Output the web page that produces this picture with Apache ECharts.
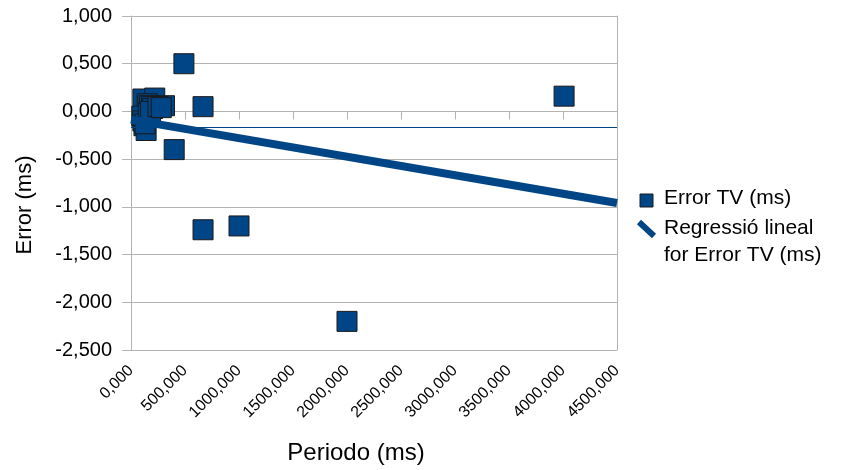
<!DOCTYPE html>
<html><head><meta charset="utf-8">
<script src="https://cdn.jsdelivr.net/npm/echarts@6/dist/echarts.min.js"></script>
<style>html,body{margin:0;padding:0;background:#fff}#c{width:847px;height:470px}</style>
</head><body><div id="c"></div>
<script>
// Error TV (ms) scatter: periodo (ms), error (ms)
const periodo = [490, 4010, 667, 400, 667, 1000, 2000,
  110, 220, 310, 150, 170, 190, 200, 100, 110, 120, 140, 130, 160, 180, 250, 280];
const errorTV = [0.50, 0.16, 0.05, -0.40, -1.24, -1.20, -2.20,
  0.13, 0.14, 0.06, 0.08, 0.06, 0.05, 0.03, -0.05, -0.10, -0.15, -0.20, -0.13, -0.02, 0.00, 0.05, 0.04];
// Regression line endpoints
const regX = [0, 4500];
const regY = [-0.086, -0.96];
const meanLineY = -0.17;
const xTicks = {min: 0, max: 4500, interval: 500};
const yTicks = {min: -2.5, max: 1.0, interval: 0.5};
const seriesNames = ['Error TV (ms)', 'Regressió lineal', 'for Error TV (ms)'];

const fmt = v => v.toFixed(3).replace('.', ',');
const blue = '#004586';
const font = '"Liberation Sans", Arial, sans-serif';

const chart = echarts.init(document.getElementById('c'));
chart.setOption({
  animation: false,
  textStyle: {fontFamily: font},
  grid: {left: 131, right: 230, top: 16, bottom: 119},
  graphic: [
    {type: 'rect', shape: {x: 640, y: 194, width: 13, height: 13},
     style: {fill: blue, stroke: '#1a1a1a', lineWidth: 1}},
    {type: 'text', left: 664, top: 188,
     style: {text: seriesNames[0], font: '21px ' + font, fill: '#000'}},
    {type: 'line', shape: {x1: 639, y1: 222, x2: 654, y2: 236},
     style: {stroke: blue, lineWidth: 6}},
    {type: 'text', left: 664, top: 215,
     style: {text: seriesNames[1] + '\n' + seriesNames[2], font: '21px ' + font, fill: '#000', lineHeight: 27}}
  ],
  xAxis: {
    type: 'value', min: xTicks.min, max: xTicks.max, interval: xTicks.interval,
    name: 'Periodo (ms)', nameLocation: 'middle', nameGap: 91,
    nameTextStyle: {fontSize: 24, color: '#000', fontFamily: font, padding: [0, 36, 0, 0]},
    axisLine: {show: true, lineStyle: {color: '#b3b3b3'}},
    axisTick: {show: true, length: 8, lineStyle: {color: '#b3b3b3'}},
    splitLine: {show: false},
    axisLabel: {rotate: 45, fontSize: 16, color: '#000', fontFamily: font, margin: 18, formatter: fmt}
  },
  yAxis: [{
    type: 'value', min: yTicks.min, max: yTicks.max, interval: yTicks.interval,
    name: 'Error (ms)', nameLocation: 'middle', nameGap: 95,
    nameTextStyle: {fontSize: 22, color: '#000', fontFamily: font, padding: [0, 44, 0, 0]},
    axisLine: {show: true, lineStyle: {color: '#b3b3b3'}},
    axisTick: {show: true, length: 9, inside: false, lineStyle: {color: '#b3b3b3'}},
    splitLine: {show: true, lineStyle: {color: '#b3b3b3'}},
    axisLabel: {fontSize: 20, color: '#000', fontFamily: font, margin: 19, formatter: fmt}
  }, {
    type: 'value', min: yTicks.min, max: yTicks.max, interval: yTicks.interval, position: 'right',
    axisLine: {show: true, lineStyle: {color: '#b3b3b3'}},
    axisTick: {show: false}, axisLabel: {show: false}, splitLine: {show: false}
  }],
  series: [{
    name: seriesNames[0], type: 'scatter', symbol: 'rect', symbolSize: 20,
    itemStyle: {color: blue, borderColor: '#1a1a1a', borderWidth: 1, opacity: 1},
    data: periodo.map((x, i) => [x, errorTV[i]]),
    z: 3,
    markLine: {
      silent: true, symbol: 'none', label: {show: false},
      lineStyle: {color: blue, width: 1, type: 'solid'},
      data: [{yAxis: meanLineY}]
    }
  }, {
    name: 'regression', type: 'line', showSymbol: false, symbol: 'none',
    lineStyle: {color: blue, width: 8},
    itemStyle: {color: blue},
    data: regX.map((x, i) => [x, regY[i]]),
    z: 4
  }]
});
</script></body></html>
